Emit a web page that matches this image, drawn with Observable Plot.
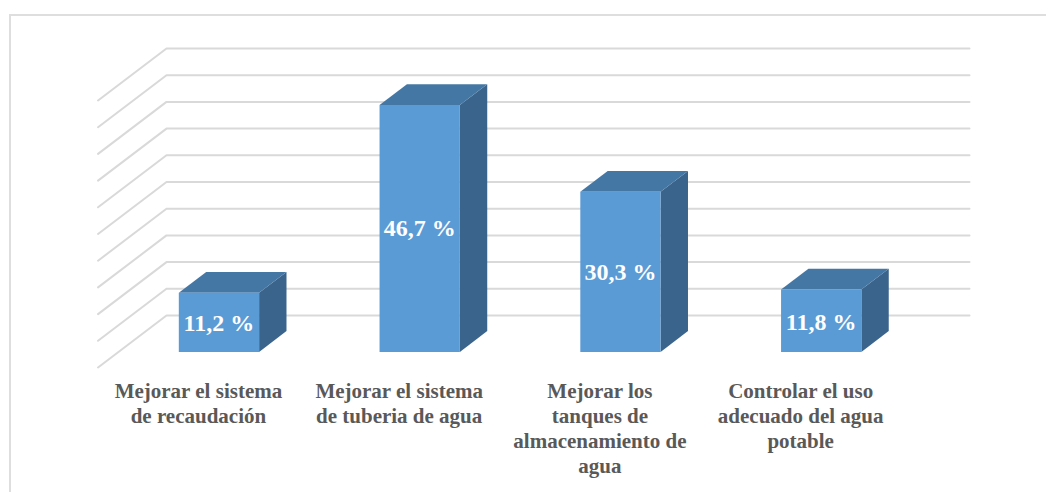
<!DOCTYPE html>
<html><head><meta charset="utf-8">
<script src="https://cdn.jsdelivr.net/npm/d3@7"></script>
<script src="https://cdn.jsdelivr.net/npm/@observablehq/plot@0.6"></script>
<style>
html,body{margin:0;padding:0;background:#fff;}
#chart{position:relative;width:1046px;height:492px;overflow:hidden;}
#chart svg{display:block;position:relative;}
#frame{position:absolute;left:9px;top:14px;width:1040px;height:490px;border-left:2px solid #dedede;border-top:2px solid #dedede;box-sizing:border-box;}
</style></head><body>
<div id="chart"><div id="frame"></div></div>
<script>
const categories = [
  "Mejorar el sistema\nde recaudación",
  "Mejorar el sistema\nde tuberia de agua",
  "Mejorar los\ntanques de\nalmacenamiento de\nagua",
  "Controlar el uso\nadecuado del agua\npotable"
];
const values = [11.2, 46.7, 30.3, 11.8];
const labels = ["11,2 %", "46,7 %", "30,3 %", "11,8 %"];
const gridValues = [0, 5, 10, 15, 20, 25, 30, 35, 40, 45, 50];

// Oblique projection: slot (category units), value (percent), depth (0 = back wall, 1 = front of floor)
const floorDepthX = 0.341, floorDepthY = 9.74;
const frontDepth = 0.70, backDepth = 0.30, barFraction = 0.4, barHeightScale = 0.99;
const project = (slot, value, depth) => ({x: slot - depth * floorDepthX, y: value - depth * floorDepthY});

const gridLines = gridValues.map(v => [project(0, v, 1), project(0, v, 0), project(4, v, 0)]);
const faces = {front: [], top: [], side: []};
values.forEach((value, i) => {
  const v = value * barHeightScale;
  const l = i + 0.5 - barFraction / 2, r = i + 0.5 + barFraction / 2;
  faces.side.push([project(r, 0, frontDepth), project(r, 0, backDepth), project(r, v, backDepth), project(r, v, frontDepth)]);
  faces.top.push([project(l, v, frontDepth), project(r, v, frontDepth), project(r, v, backDepth), project(l, v, backDepth)]);
  faces.front.push([project(l, 0, frontDepth), project(r, 0, frontDepth), project(r, v, frontDepth), project(l, v, frontDepth)]);
});
const faceMarks = (list, fill) => list.map(p =>
  Plot.line(p, {x: "x", y: "y", fill, stroke: "none", curve: "linear-closed"}));

const plot = Plot.plot({
  width: 1046, height: 492,
  marginLeft: 166, marginRight: 77, marginTop: 48, marginBottom: 177,
  x: {domain: [0, 4], axis: null},
  y: {domain: [0, 50], axis: null},
  style: {background: "transparent", overflow: "visible"},
  marks: [
    ...gridLines.map(g => Plot.line(g, {x: "x", y: "y", stroke: "#d9d9d9", strokeWidth: 2})),
    ...faceMarks(faces.side, "#3a648b"),
    ...faceMarks(faces.top, "#4577a5"),
    ...faceMarks(faces.front, "#5b9bd5"),
    Plot.text(values.map((v, i) => ({...project(i + 0.5, v / 2, frontDepth), t: labels[i]})), {
      x: "x", y: "y", text: "t", dy: 1.5, fill: "#fff", fontSize: 24, fontWeight: "bold",
      fontFamily: "'Liberation Serif'", textAnchor: "middle"
    }),
    Plot.text(categories.map((c, i) => ({...project(i + 0.5, -2.4, 1), t: c})), {
      x: "x", y: "y", text: "t", fill: "#595959", fontSize: 21, fontWeight: "bold",
      fontFamily: "'Liberation Serif'", lineAnchor: "top", lineHeight: 1.19, textAnchor: "middle"
    })
  ]
});
document.getElementById("chart").appendChild(plot);
</script>
</body></html>
